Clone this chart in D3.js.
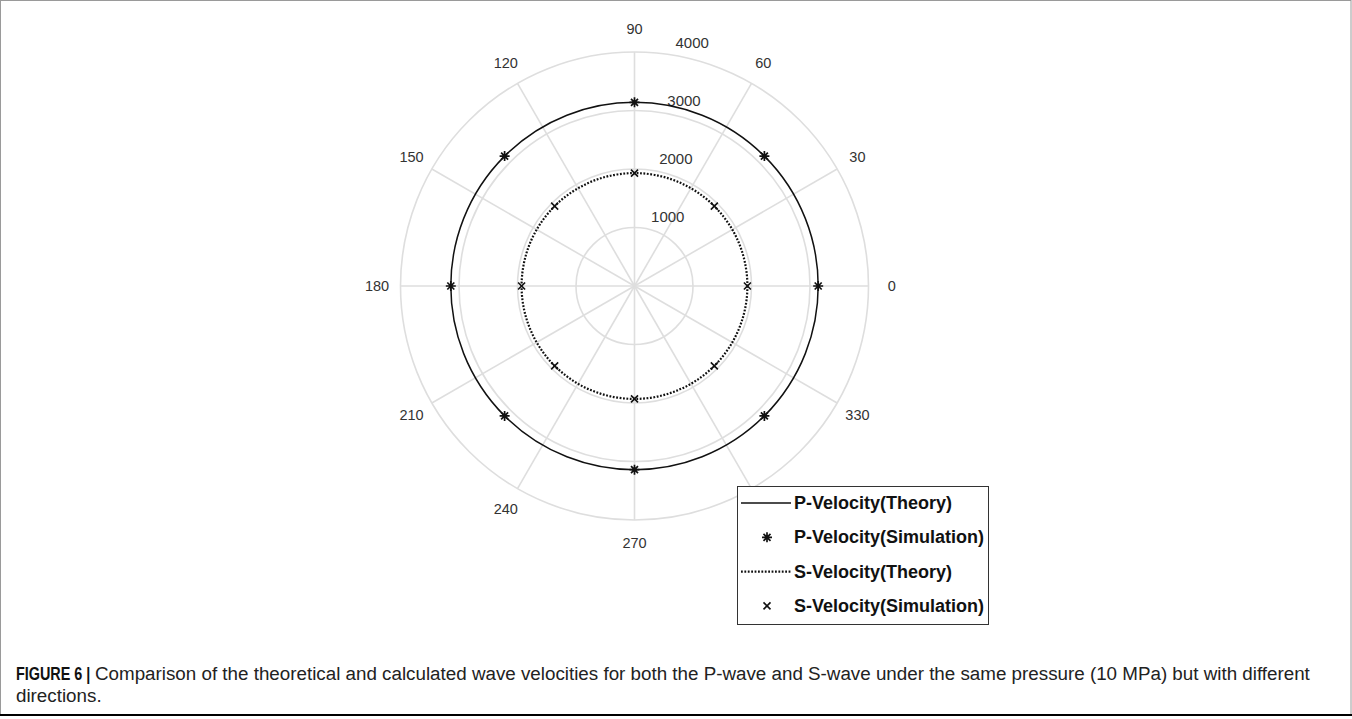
<!DOCTYPE html>
<html>
<head>
<meta charset="utf-8">
<script src="https://cdn.jsdelivr.net/npm/d3@7/dist/d3.min.js"></script>
<style>
  html, body { margin: 0; padding: 0; background: #fff; }
  svg { display: block; font-family: "Liberation Sans", Arial, Helvetica, sans-serif; }
</style>
</head>
<body>
<svg id="chart" width="1352" height="719"></svg>
<script>
// Polar velocity data (m/s), direction in degrees
const radialTicks = [1000, 2000, 3000, 4000];
const angleTicks = [0, 30, 60, 90, 120, 150, 180, 210, 240, 270, 300, 330];
const angleLabels = [0, 30, 60, 90, 120, 150, 180, 210, 240, 270, 330]; // 300 sits under the legend
const pTheory = 3140;          // isotropic P-wave velocity
const sTheory = 1930;          // isotropic S-wave velocity
const simAngles = [0, 45, 90, 135, 180, 225, 270, 315];
const pSimulation = [3140, 3140, 3140, 3140, 3140, 3140, 3140, 3140];
const sSimulation = [1930, 1930, 1930, 1930, 1930, 1930, 1930, 1930];
const legendLabels = ["P-Velocity(Theory)", "P-Velocity(Simulation)", "S-Velocity(Theory)", "S-Velocity(Simulation)"];

const svg = d3.select("#chart");
const W = 1352;

// Figure frame
svg.append("rect").attr("x", 0.5).attr("y", 0.5).attr("width", W - 1.5).attr("height", 714)
  .attr("fill", "none").attr("stroke", "#9a9a9a").attr("stroke-width", 1);
svg.append("line").attr("x1", 0).attr("x2", W).attr("y1", 715).attr("y2", 715)
  .attr("stroke", "#000").attr("stroke-width", 2);

const cx = 634.5, cy = 286;
const r = d3.scaleLinear().domain([0, 4000]).range([0, 234]);
const rad = d => d * Math.PI / 180;
const px = (v, a) => cx + r(v) * Math.cos(rad(a));
const py = (v, a) => cy - r(v) * Math.sin(rad(a));

const g = svg.append("g");
const gridColor = "#dedede";

// Rings
g.selectAll("circle.ring").data(radialTicks).join("circle")
  .attr("class", "ring").attr("cx", cx).attr("cy", cy).attr("r", d => r(d))
  .attr("fill", "none").attr("stroke", gridColor).attr("stroke-width", 1.6);

// Spokes
g.selectAll("line.spoke").data(angleTicks).join("line")
  .attr("x1", cx).attr("y1", cy)
  .attr("x2", d => px(4000, d)).attr("y2", d => py(4000, d))
  .attr("stroke", gridColor).attr("stroke-width", 1.6);

// Angle labels
g.selectAll("text.ang").data(angleLabels).join("text")
  .attr("x", d => cx + r(4000) * 1.1 * Math.cos(rad(d)))
  .attr("y", d => cy - r(4000) * 1.1 * Math.sin(rad(d)))
  .attr("text-anchor", "middle").attr("dominant-baseline", "central")
  .attr("font-size", 14.5).attr("fill", "#333").text(d => d);

// Radial tick labels along 82 degrees
g.selectAll("text.rt").data(radialTicks).join("text")
  .attr("x", d => px(d + 50, 82) + 8)
  .attr("y", d => py(d + 50, 82) - 3)
  .attr("text-anchor", "start")
  .attr("font-size", 15).attr("fill", "#333").text(d => d);

// Theory curves
g.append("circle").attr("cx", cx).attr("cy", cy).attr("r", r(pTheory))
  .attr("fill", "none").attr("stroke", "#111").attr("stroke-width", 1.5);
g.append("circle").attr("cx", cx).attr("cy", cy).attr("r", r(sTheory))
  .attr("fill", "none").attr("stroke", "#111").attr("stroke-width", 2.2)
  .attr("stroke-dasharray", "1.8,1.6");

// Marker shapes
function asterisk(sel, s) {
  const a = s / 2, b = a * 0.7;
  sel.append("path")
    .attr("d", `M${-a},0L${a},0M0,${-a}L0,${a}M${-b},${-b}L${b},${b}M${-b},${b}L${b},${-b}`)
    .attr("stroke", "#111").attr("stroke-width", 1.7).attr("fill", "none");
}
function cross(sel, s) {
  const a = s / 2;
  sel.append("path")
    .attr("d", `M${-a},${-a}L${a},${a}M${-a},${a}L${a},${-a}`)
    .attr("stroke", "#111").attr("stroke-width", 1.6).attr("fill", "none");
}

g.selectAll("g.pSim").data(simAngles.map((a, i) => ({ a, v: pSimulation[i] }))).join("g")
  .attr("transform", d => `translate(${px(d.v, d.a)},${py(d.v, d.a)})`)
  .each(function () { asterisk(d3.select(this), 10); });
g.selectAll("g.sSim").data(simAngles.map((a, i) => ({ a, v: sSimulation[i] }))).join("g")
  .attr("transform", d => `translate(${px(d.v, d.a)},${py(d.v, d.a)})`)
  .each(function () { cross(d3.select(this), 7); });

// Legend
const lg = svg.append("g").attr("transform", "translate(737,486)");
lg.append("rect").attr("x", 0.5).attr("y", 0.5).attr("width", 251).attr("height", 138)
  .attr("fill", "#fff").attr("stroke", "#333").attr("stroke-width", 1);
const rowY = i => 17 + i * 34.3;
legendLabels.forEach((lab, i) => {
  lg.append("text").attr("x", 57).attr("y", rowY(i)).attr("dominant-baseline", "central")
    .attr("font-size", 18).attr("font-weight", "bold").attr("fill", "#111").text(lab);
});
lg.append("line").attr("x1", 4).attr("x2", 54).attr("y1", rowY(0)).attr("y2", rowY(0))
  .attr("stroke", "#111").attr("stroke-width", 1.5);
asterisk(lg.append("g").attr("transform", `translate(30,${rowY(1)})`), 10);
lg.append("line").attr("x1", 4).attr("x2", 54).attr("y1", rowY(2)).attr("y2", rowY(2))
  .attr("stroke", "#111").attr("stroke-width", 2.2).attr("stroke-dasharray", "1.8,1.6");
cross(lg.append("g").attr("transform", `translate(30,${rowY(3)})`), 7);

// Caption
svg.append("text").attr("transform", "translate(16,680) scale(0.8,1)")
  .attr("font-size", 18).attr("font-weight", "bold").attr("fill", "#111").text("FIGURE 6 |");
svg.append("text").attr("x", 95).attr("y", 680).attr("font-size", 18.8).attr("fill", "#222")
  .text("Comparison of the theoretical and calculated wave velocities for both the P-wave and S-wave under the same pressure (10 MPa) but with different");
svg.append("text").attr("x", 16).attr("y", 702).attr("font-size", 18.8).attr("fill", "#222").text("directions.");
</script>
</body>
</html>
